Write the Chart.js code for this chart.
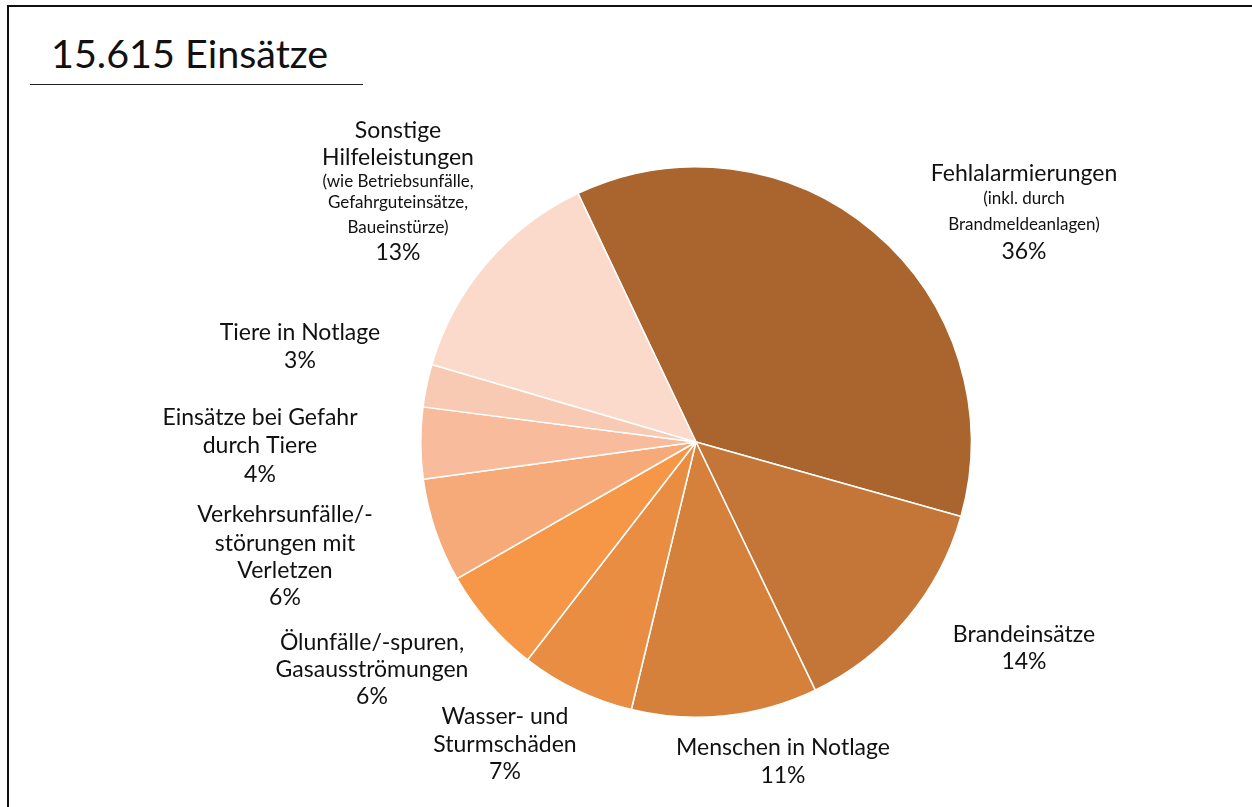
<!DOCTYPE html>
<html lang="de">
<head>
<meta charset="utf-8">
<script src="https://cdn.jsdelivr.net/npm/chart.js@4"></script>
<style>
    html, body { margin: 0; padding: 0; background: #fff; }
    #wrap { position: relative; width: 1252px; height: 807px; overflow: hidden; }
    #frame { position: absolute; left: 7px; top: 5px; width: 1260px; height: 820px;
             border-top: 2px solid #111; border-left: 2px solid #111; }
    #title { position: absolute; left: 51px; top: 27px; font-family: Lato, "Open Sans", sans-serif;
             font-size: 39.5px; color: #111; line-height: 52px; }
    #rule { position: absolute; left: 30px; top: 84px; width: 333px; height: 1px; background: #222; }
    canvas { position: absolute; left: 0; top: 0; }
</style>
</head>
<body>
<div id="wrap">
    <div id="frame"></div>
    <div id="title">15.615 Einsätze</div>
    <div id="rule"></div>
    <canvas id="pie" width="1252" height="807"></canvas>
</div>
<script>
// Categories (clockwise from the top-left edge of "Fehlalarmierungen")
const categories = [
    'Fehlalarmierungen', 'Brandeinsätze', 'Menschen in Notlage', 'Wasser- und Sturmschäden',
    'Ölunfälle/-spuren, Gasausströmungen', 'Verkehrsunfälle/-störungen mit Verletzen',
    'Einsätze bei Gefahr durch Tiere', 'Tiere in Notlage', 'Sonstige Hilfeleistungen'
];
// Shares (percent)
const shares = [36.4, 13.5, 10.9, 6.7, 6.25, 6.1, 4.2, 2.5, 13.4];
// Percent printed in the labels
const printedPct = [36, 14, 11, 7, 6, 6, 4, 3, 13];
const colors = ['#a9652d', '#c37637', '#d5813b', '#e88d42', '#f59747', '#f6aa79', '#f8bb9b', '#f9cab3', '#fbdacb'];

// Label text lines: [text, small?]
const labelLines = [
    [['Fehlalarmierungen', 0], ['(inkl. durch', 1], ['Brandmeldeanlagen)', 1]],
    [['Brandeinsätze', 0]],
    [['Menschen in Notlage', 0]],
    [['Wasser- und', 0], ['Sturmschäden', 0]],
    [['Ölunfälle/-spuren,', 0], ['Gasausströmungen', 0]],
    [['Verkehrsunfälle/-', 0], ['störungen mit', 0], ['Verletzen', 0]],
    [['Einsätze bei Gefahr', 0], ['durch Tiere', 0]],
    [['Tiere in Notlage', 0]],
    [['Sonstige', 0], ['Hilfeleistungen', 0], ['(wie Betriebsunfälle,', 1], ['Gefahrguteinsätze,', 1], ['Baueinstürze)', 1]]
];
// Line y positions (relative to pie centre) and block x offsets
const labelX = [328, 328, 87, -191, -324, -411, -436, -396, -298];
const labelY = [
    [-268, -243, -217, -190],
    [193, 220],
    [306, 334],
    [275, 303, 330],
    [201, 228, 255],
    [73, 102, 129, 156],
    [-24, 4, 33],
    [-109, -81],
    [-311, -284, -260, -239, -214, -189]
];

const outsideLabels = {
    id: 'outsideLabels',
    afterDatasetsDraw(chart) {
        const ctx = chart.ctx;
        const arcs = chart.getDatasetMeta(0).data;
        ctx.save();
        ctx.fillStyle = '#111';
        ctx.textAlign = 'center';
        ctx.textBaseline = 'middle';
        arcs.forEach((arc, i) => {
            const x = arc.x + labelX[i];
            const lines = labelLines[i].concat([[printedPct[i] + '%', 0]]);
            lines.forEach((ln, j) => {
                ctx.font = (ln[1] ? '17px' : '23px') + ' Lato, "Open Sans", sans-serif';
                ctx.fillText(ln[0], x, arc.y + labelY[i][j]);
            });
        });
        ctx.restore();
    }
};

new Chart(document.getElementById('pie'), {
    type: 'pie',
    data: {
        labels: categories,
        datasets: [{
            data: shares,
            backgroundColor: colors,
            borderColor: '#ffffff',
            borderWidth: 1.5
        }]
    },
    options: {
        responsive: false,
        animation: false,
        rotation: -25.4,
        layout: { padding: { left: 420, right: 280, top: 166, bottom: 89 } },
        plugins: {
            legend: { display: false },
            tooltip: { enabled: false }
        }
    },
    plugins: [outsideLabels]
});
</script>
</body>
</html>
